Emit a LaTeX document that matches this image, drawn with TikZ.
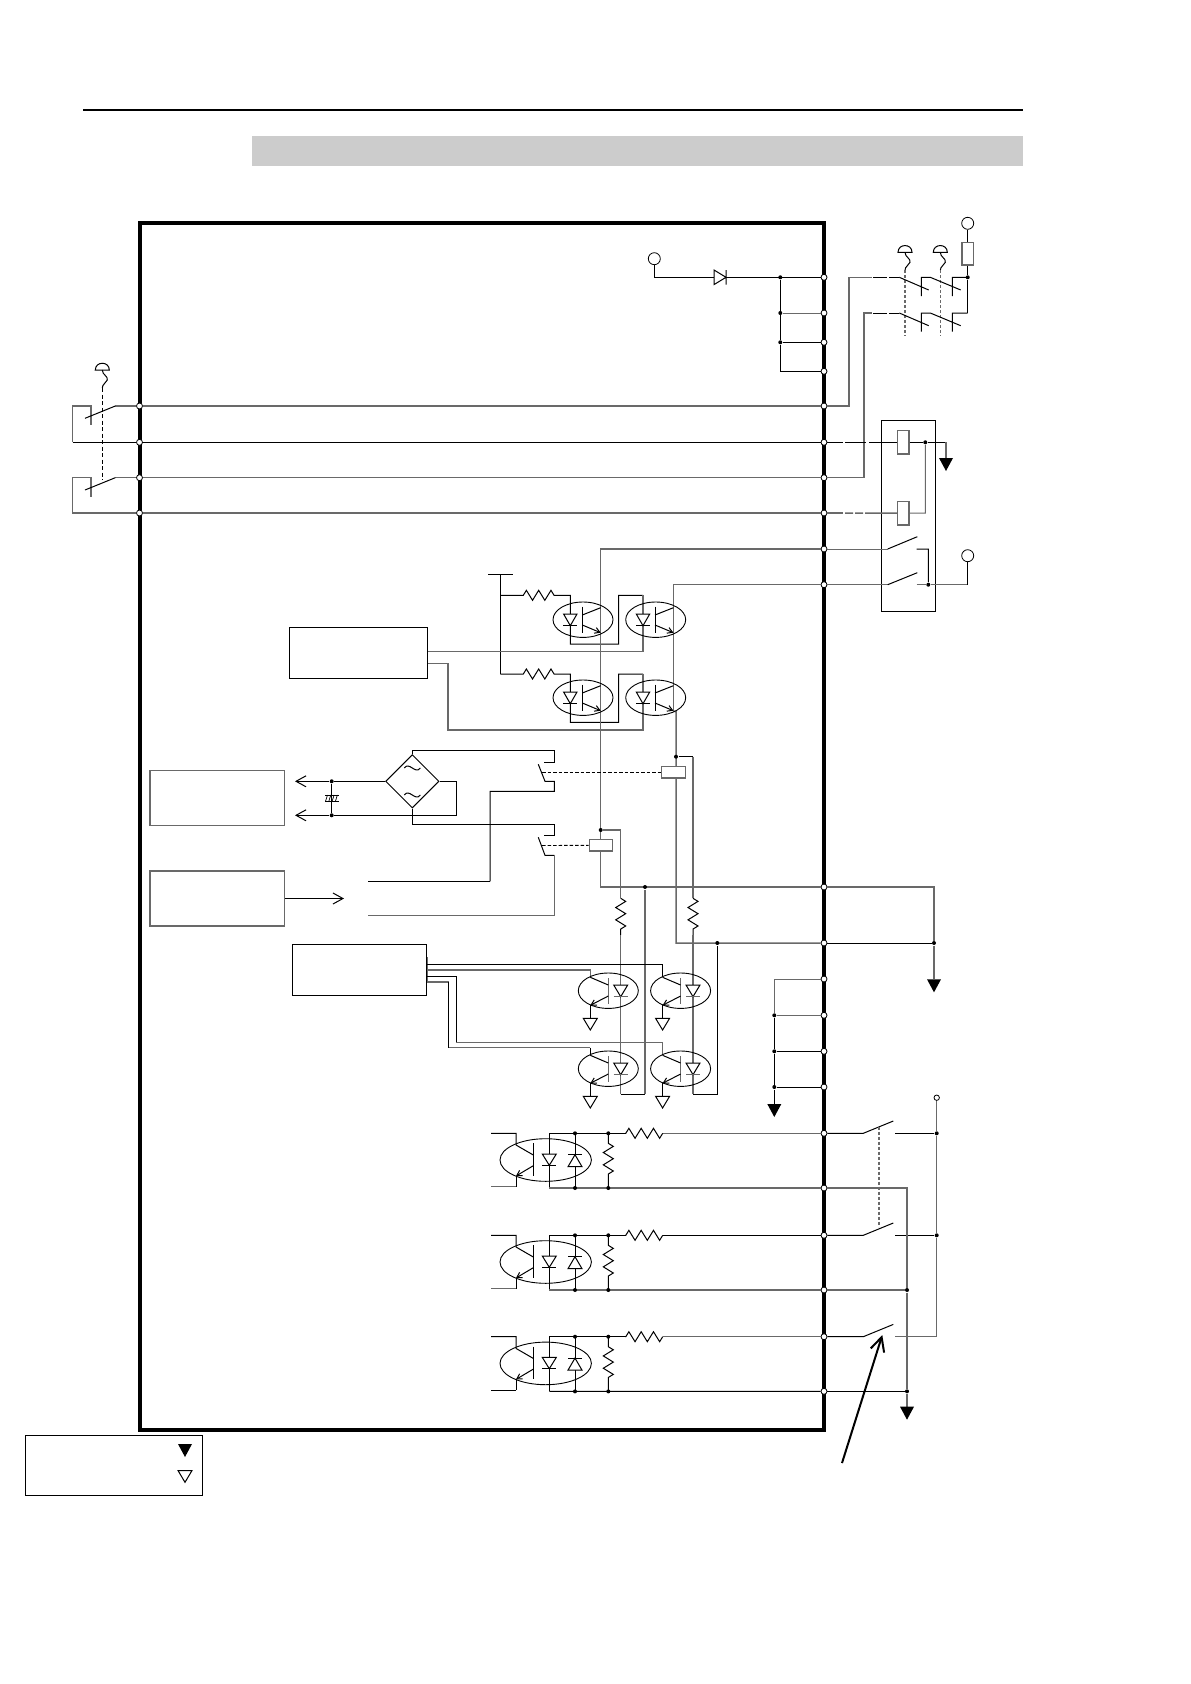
\documentclass[tikz,border=0pt]{standalone}
\usetikzlibrary{arrows.meta,decorations.pathmorphing,shapes.geometric}
\definecolor{wgray}{HTML}{696969}
\definecolor{bandgray}{HTML}{CCCCCC}
\tikzset{
	wire/.style={line width=1pt,black},
	gwire/.style={line width=1.5pt,wgray},
	mech/.style={line width=1.2pt,wgray,dash pattern=on 3pt off 2pt},
	pin/.style={circle,draw,fill=white,inner sep=0pt,minimum size=6pt,line width=.8pt},
	dot/.style={circle,fill=black,inner sep=0pt,minimum size=4pt},
	term/.style={circle,draw,fill=white,inner sep=0pt,minimum size=12pt,line width=.8pt},
	block/.style={draw,line width=1pt,inner sep=0pt},
	coil/.style={draw,fill=white,line width=1.2pt,inner sep=0pt},
	res/.style={decoration={zigzag,segment length=12.3pt,amplitude=5pt}},
	barb/.style={-{Straight Barb[length=10pt,width=11pt]}},
	smallbarb/.style={-{Straight Barb[length=5pt,width=6pt]}},
}
\begin{document}
\begin{tikzpicture}[x=1pt,y=-1pt,line width=1pt]
\useasboundingbox (0,0) rectangle (1191,1684);

\draw [line width=2pt] (83,109.5) -- (1023,109.5);
\fill [bandgray] (252,135.5) rectangle (1023,166);

\node [draw,line width=4pt,inner sep=0pt,minimum width=684.5pt,minimum height=1207.3pt] (frame) at (481.75,826.35) {};

\foreach \n/\y in {1/277.3,2/313,3/342.3,4/371.3,5/406,6/442.3,7/477.7,8/513,9/549,10/584.7,11/887,12/943,13/979,14/1015.3,15/1051.3,16/1087,17/1133.3,18/1188,19/1235.3,20/1290,21/1336.7,22/1391.3} {
	\node [pin] (p\n) at (824,\y) {};
}
\foreach \n/\y in {5/406,6/442.3,7/477.7,8/513} {
	\node [pin] (q\n) at (139.5,\y) {};
}

% long lines across the frame
\draw [gwire] (q5) -- (p5);
\draw [wire] (q6) -- (p6);
\draw [gwire] (q7) -- (p7);
\draw [gwire] (q8) -- (p8);

% outer contacts on the left
\draw [gwire] (q5) -- (115.3,406) (91,424.7) -- (91,406) -- (72.7,406) -- (72.7,442.3);
\draw [wire] (72.7,442.3) -- (q6);
\draw [wire] (115.3,406) -- (85,418.3);
\draw [gwire] (q7) -- (115.3,477.7) (91,496.7) -- (91,477.7) -- (72.7,477.7) -- (72.7,513) -- (q8);
\draw [wire] (115.3,477.7) -- (85,490);
\draw [wire,dash pattern=on 4pt off 2.5pt,line width=.9pt] (102.3,388) -- (102.3,480);

% top terminal and diode
\node [term] (vcc) at (654.3,258.7) {};
\draw [wire] (vcc) |- (714,277.3);
\draw [wire] (714,270) -- (714,284.6) -- (726,277.3) -- cycle (726,270) -- (726,284.6);
\draw [wire] (726,277.3) -- (p1);
\node [dot] (j1) at (780.3,277.3) {};
\node [dot] (j2) at (780.3,313) {};
\node [dot] (j3) at (780.3,342.3) {};
\draw [wire] (j1) -- (j3) -- (780.3,371.3) -- (p4);
\draw [wire,wgray] (j2) -- (p2);
\draw [wire] (j3) -- (p3);

% stop buttons
\foreach \x/\y in {102.3/370,905/252.3,940.3/252.3} {
	\draw [wire] (\x-7,\y) .. controls (\x-7,\y-9) and (\x+7,\y-9) .. (\x+7,\y) -- cycle;
	\draw [wire] (\x,\y) .. controls (\x,\y+5) and (\x+6,\y+6) .. (\x+5,\y+10) .. controls (\x+4,\y+13) and (\x,\y+14) .. (\x,\y+18);
}
\foreach \x in {905,940.3} {
	\draw [mech] (\x,270.3) -- (\x,336);
}

% contacts at the top right
\draw [gwire] (p5) -- (849,406) -- (849,277.3) -- (871.7,277.3);
\draw [gwire] (p7) -- (864,477.7) -- (864,313) -- (871.7,313);
\foreach \y in {277.3,313} {
	\draw [wire,dash pattern=on 14pt off 2pt on 10pt] (873,\y) -- (899.3,\y);
	\draw [wire] (899.3,\y) -- (928.7,\y+12.7) (921.3,\y+18.7) -- (921.3,\y) -- (930.3,\y) -- (960.7,\y+12.7) (952.3,\y+18.7) -- (952.3,\y) -- (967.7,\y);
}
\node [dot] (j4) at (967.7,277.3) {};
\node [coordinate] (c1) at (967.7,313) {};
\draw [wire] (j4) -- (c1);
\node [term] (vc1) at (967.7,223.3) {};
\node [coil,draw=wgray,minimum width=11.3pt,minimum height=22.7pt] (r1) at (967.7,253.6) {};
\draw [wire] (vc1) -- (r1);
\draw [wire] (r1) -- (j4);

% safety relay box
\node [block,minimum width=53.6pt,minimum height=191pt] (relaybox) at (908.5,515.8) {};
\node [coil,draw=wgray,minimum width=11.3pt,minimum height=23.3pt] (coila) at (903.3,442.3) {};
\node [coil,draw=wgray,minimum width=11.3pt,minimum height=23.7pt] (coilb) at (903.3,513.2) {};
\node [dot] (j5) at (925.3,442.3) {};
\draw [wire] (p6) -- (843,442.3);
\draw [wire,dash pattern=on 21pt off 3pt on 40pt] (845,442.3) -- (coila);
\draw [gwire] (p8) -- (843,513);
\draw [gwire,dash pattern=on 8pt off 2pt on 8pt off 2pt on 40pt] (845,513) -- (coilb);
\draw [wire] (coila) -- (j5) -- (946,442.3);
\draw [gwire] (946,442.3) -- (946,458);
\draw [wire,wgray] (j5) -- (925.3,513) -- (coilb);
\node [term] (vc2) at (967.7,555.7) {};
\node [dot] (j6) at (928.3,584.7) {};
\draw [wire,wgray] (p9) -- (887.7,549);
\draw [wire] (887.7,549) -- (917.3,536.7) (916.7,549) -- (928.3,549) -- (j6);
\draw [gwire] (p10) -- (887.7,584.7);
\draw [wire] (887.7,584.7) -- (917.3,572.7);
\draw [gwire] (916.7,584.7) -- (j6) -- (967.7,584.7);
\draw [wire] (967.7,584.7) -- (vc2);

% first driver block and its couplers
\node [block,minimum width=138pt,minimum height=51pt] (drva) at (358.3,652.8) {};
\draw [wire] (488.3,574.7) -- (513.3,574.7) (500.3,574.7) -- (500.3,674);
\draw [wire] (500.3,595.3) -- (523.3,595.3) decorate [res] {-- (560,595.3)} -- (570.3,595.3) -- (570.3,644) -- (618.7,644) -- (618.7,595.3) -- (643,595.3);
\draw [wire] (500.3,674) -- (523.3,674) decorate [res] {-- (560,674)} -- (570.3,674) -- (570.3,722.3) -- (618.7,722.3) -- (618.7,674) -- (643,674);
\draw [gwire] (643,595.3) -- (643,651.7) -- (drva.east |- 0,651.7);
\draw [gwire] (643,674) -- (643,730) -- (448,730) -- (448,663.3) -- (drva.east |- 0,663.3);
\draw [gwire] (p9) -- (600.7,549) -- (600.7,887) -- (p11);
\draw [wire,wgray] (p10) -- (673.3,584.7) -- (673.3,711);
\draw [gwire] (673.3,711) -- (676,711.7) -- (676,943) -- (p12);
\foreach \x/\y in {570.3/619.7,643/619.7,570.3/697.7,643/697.7} {
	\draw [line width=.9pt] (\x+12.7,\y) circle [x radius=30,y radius=17.7];
	\draw [wire,fill=white] (\x-6.7,\y-5.7) -- (\x+6.7,\y-5.7) -- (\x,\y+6) -- cycle;
	\draw [wire] (\x-7,\y+6) -- (\x+7,\y+6);
	\draw [wire] (\x+12,\y-13) -- (\x+12,\y+13.6);
	\draw [wire] (\x+12,\y-4.7) -- (\x+30.4,\y-12);
	\draw [wire,smallbarb] (\x+12,\y+5.3) -- (\x+30.4,\y+13);
}

% relays and resistors
\node [dot] (j7) at (600.7,830) {};
\node [dot] (j8) at (676,756.7) {};
\node [dot] (j9) at (645,887) {};
\node [dot] (j10) at (717.3,943) {};
\draw [gwire] (j7) -- (620.7,830) -- (620.7,898.3);
\draw [wire] (620.7,898.3) decorate [res] {-- (620.7,935)};
\draw [gwire] (620.7,935) -- (620.7,1094.3);
\draw [wire] (620.7,1094.3) -- (645,1094.3);
\draw [gwire] (645,1094.3) -- (j9);
\draw [wire] (j8) -- (693,756.7);
\draw [gwire] (693,756.7) -- (693,898.3);
\draw [wire] (693,898.3) decorate [res] {-- (693,935)};
\draw [gwire] (693,935) -- (693,1094.3);
\draw [wire] (693,1094.3) -- (717.3,1094.3) -- (j10);
\node [coil,draw=wgray,minimum width=23pt,minimum height=11.3pt] (relayb) at (600.7,845.3) {};
\node [coil,draw=wgray,minimum width=24.4pt,minimum height=11.3pt] (relaya) at (673.5,772.3) {};
\draw [wire,dash pattern=on 3.5pt off 2pt,line width=.9pt] (542,772.3) -- (relaya);
\draw [wire,dash pattern=on 3.5pt off 2pt,line width=.9pt] (542,845.5) -- (relayb);

% bridge and the two contacts
\node [block,diamond,shape aspect=1,minimum width=53.4pt,minimum height=53.4pt] (bridge) at (412.3,781.3) {};
\foreach \y in {768,795} {
	\draw [wire] (404.3,\y) .. controls (409.3,\y-7) and (415.3,\y+7) .. (420.3,\y);
}
\node [dot] (j11) at (331.7,781.3) {};
\node [dot] (j12) at (331.7,815.3) {};
\draw [wire,barb] (bridge.west) -- (j11) -- (295,781.3);
\draw [wire] (bridge.east) -- (456.3,781.3) -- (456.3,815.3) -- (j12);
\draw [wire,barb] (j12) -- (295,815.3);
\draw [wire] (j11) -- (j12);
\draw [line width=.7pt] (325,795) -- (338.7,795) (325,801.3) -- (338.7,801.3);
\foreach \x in {326.5,329.8,333.1,336.4} {
	\draw [line width=.7pt] (\x-1,801.3) -- (\x+1,795);
}
\draw [wire] (bridge.north) -- (412.3,750.7) -- (554.3,750.7) -- (554.3,762.7) -- (544.3,762.7);
\draw [wire] (538.3,764.3) -- (545,781.3) -- (554.3,781.3) -- (554.3,791.3) -- (490,791.3) -- (490,881.3);
\draw [wire] (490,881.3) -- (368,881.3);
\draw [wire] (bridge.south) -- (412.3,824.3) -- (554.3,824.3) -- (554.3,835.7) -- (544.3,835.7);
\draw [wire] (538.3,837.3) -- (545,855.3) -- (554.3,855.3);
\draw [gwire] (554.3,855.3) -- (554.3,915.7) -- (368,915.7);
\node [block,draw=wgray,line width=1.4pt,minimum width=134.3pt,minimum height=54.6pt] (supa) at (217.2,798) {};
\node [block,draw=wgray,line width=1.4pt,minimum width=134.3pt,minimum height=55pt] (supb) at (217.2,898.5) {};
\draw [wire,barb] (supb) -- (344,898.5);

% second driver block and its couplers
\node [block,minimum width=134.4pt,minimum height=51pt] (drvb) at (359.5,969.8) {};
\draw [line width=1.4pt,wgray] (427.5,957) -- (427.5,983);
\draw [wire] (drvb.east |- 0,964.3) -- (662.6,964.3) -- (662.6,977.3);
\draw [gwire] (drvb.east |- 0,970) -- (590.3,970) -- (590.3,977.3);
\draw [wire] (drvb.east |- 0,976.3) -- (456.3,976.3) -- (456.3,1042.7);
\draw [gwire] (456.3,1042.7) -- (662.6,1042.7) -- (662.6,1055.3);
\draw [gwire] (drvb.east |- 0,982) -- (448.7,982);
\draw [wire] (448.7,982) -- (448.7,1047.7);
\draw [gwire] (448.7,1047.7) -- (590.3,1047.7);
\draw [wire] (590.3,1047.7) -- (590.3,1055.3);
\foreach \x/\y in {620.7/990.7,693/990.7,620.7/1068.7,693/1068.7} {
	\draw [line width=.9pt] (\x-12.4,\y) circle [x radius=30,y radius=17.7];
	\draw [wire,fill=white] (\x-7,\y-5.7) -- (\x+7,\y-5.7) -- (\x,\y+6) -- cycle;
	\draw [wire,wgray] (\x-7,\y+6) -- (\x+7,\y+6);
	\draw [wire,wgray] (\x-12.4,\y-12.4) -- (\x-12.4,\y+13.3);
	\draw [wire] (\x-12.4,\y-5.7) -- (\x-30.4,\y-13.4);
	\draw [wire,smallbarb] (\x-12.4,\y+5.3) -- (\x-30.4,\y+14.6);
	\draw [wire] (\x-30.4,\y+14.6) -- (\x-30.4,\y+27.6);
	\draw [wire] (\x-37.4,\y+27.6) -- (\x-23.4,\y+27.6) -- (\x-30.4,\y+39.3) -- cycle;
}

% common return at the right
\node [dot] (j13) at (934,943) {};
\draw [gwire] (p11) -- (934,887) -- (j13) -- (934,979.3);
\draw [wire] (p12) -- (j13);
\node [dot] (j14) at (774.3,1015.3) {};
\node [dot] (j15) at (774.3,1051.3) {};
\node [dot] (j16) at (774.3,1087) {};
\draw [wire,wgray] (p13) -- (774.3,979) -- (j14);
\draw [wire,wgray] (j14) -- (p14);
\draw [wire] (j15) -- (p15);
\draw [wire] (j16) -- (p16);
\draw [wire] (j14) -- (j15) -- (j16) -- (774.3,1104);

% input couplers
\foreach \y/\a/\b/\c/\d in {1133.3/17/18/gwire/gwire,1235.3/19/20/wire/gwire,1336.7/21/22/gwire/wire} {
	\draw [\c] (p\a) -- (662.7,\y);
	\draw [wire] (662.7,\y) decorate [res] {-- (625,\y)};
	\draw [wire] (625,\y) -- (549.3,\y) -- (549.3,\y+54.7);
	\draw [\d] (549.3,\y+54.7) -- (p\b);
	\draw [line width=.9pt] (545.7,\y+26.7) circle [x radius=45.7,y radius=21.3];
	\node [dot] at (575,\y) {};
	\node [dot] at (608.3,\y) {};
	\node [dot] at (575,\y+54.7) {};
	\node [dot] at (608.3,\y+54.7) {};
	\draw [wire] (575,\y) -- (575,\y+54.7);
	\draw [wire] (608.3,\y) -- (608.3,\y+10) decorate [res] {-- (608.3,\y+45)} -- (608.3,\y+54.7);
	\draw [wire,fill=white] (542.3,\y+20.7) -- (556.3,\y+20.7) -- (549.3,\y+32) -- cycle;
	\draw [wire] (542.3,\y+32) -- (556.3,\y+32);
	\draw [wire,fill=white] (568,\y+33.4) -- (582,\y+33.4) -- (575,\y+21.4) -- cycle;
	\draw [wire] (568,\y+21.4) -- (582,\y+21.4);
	\draw [wire] (533.3,\y+10) -- (533.3,\y+42.7);
	\draw [wire] (533.3,\y+21.7) -- (516,\y+11.7) -- (516,\y) -- (491,\y);
	\draw [wire,smallbarb] (533.3,\y+32.4) -- (516,\y+42.7);
	\draw [wire] (516,\y+42.7) -- (516,\y+53.4);
	\draw [\d] (516,\y+53.4) -- (491,\y+53.4);
}

% output contacts
\node [circle,draw,fill=white,inner sep=0pt,minimum size=5.4pt,line width=.8pt] (vc3) at (936.7,1097.7) {};
\node [dot] (j17) at (936.7,1133.3) {};
\node [dot] (j18) at (936.7,1235.3) {};
\draw [wire,wgray,line width=1.3pt] (vc3) -- (j17) -- (j18) -- (936.7,1336.7) -- (895,1336.7);
\draw [wire] (895,1133.3) -- (j17) (895,1235.3) -- (j18);
\foreach \a/\y in {17/1133.3,19/1235.3,21/1336.7} {
	\draw [wire] (p\a) -- (863.3,\y) -- (893.3,\y-12.3);
}
\draw [mech] (879,1126.7) -- (879,1226.7);
\node [dot] (j19) at (907,1290) {};
\node [dot] (j20) at (907,1391.3) {};
\draw [gwire] (p18) -- (907,1188) -- (j19) -- (j20) -- (907,1406.7);
\draw [gwire] (p20) -- (j19);
\draw [wire] (p22) -- (j20);
\draw [line width=2pt,-{Straight Barb[length=14pt,width=14pt,line width=2pt]}] (842,1463) -- (882.3,1335);

% solid grounds
\foreach \x/\y in {946/458,934/979.3,774.3/1104,907/1406.7,185/1444} {
	\fill (\x-7,\y) -- (\x+7,\y) -- (\x,\y+13) -- cycle;
}

% legend
\node [block,minimum width=177.4pt,minimum height=60pt] (legend) at (114,1465.3) {};
\draw [wire] (178,1470.5) -- (192,1470.5) -- (185,1482.3) -- cycle;

\end{tikzpicture}
\end{document}
